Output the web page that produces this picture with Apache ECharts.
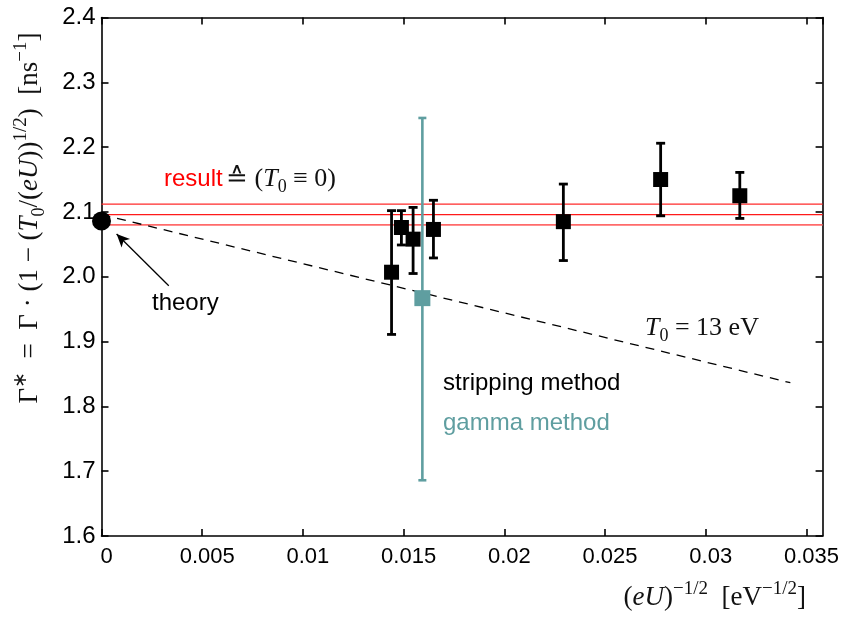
<!DOCTYPE html>
<html><head><meta charset="utf-8">
<script src="https://cdn.jsdelivr.net/npm/echarts@6/dist/echarts.min.js"></script>
<style>html,body{margin:0;padding:0;background:#fff}#c{width:842px;height:619px}</style>
</head><body><div id="c"></div>
<script>
// ---- data ----
const xTicks = [0, 0.005, 0.01, 0.015, 0.02, 0.025, 0.03, 0.035];
const xTickLabels = ['0', '0.005', '0.01', '0.015', '0.02', '0.025', '0.03', '0.035'];
const yTicks = [1.6, 1.7, 1.8, 1.9, 2.0, 2.1, 2.2, 2.3, 2.4];
const yTickLabels = ['1.6', '1.7', '1.8', '1.9', '2.0', '2.1', '2.2', '2.3', '2.4'];

const stripX    = [0.01440, 0.01489, 0.01547, 0.01648, 0.02293, 0.02776, 0.03169];
const stripY    = [2.007, 2.076, 2.058, 2.073, 2.085, 2.150, 2.125];
const stripLow  = [1.911, 2.049, 2.005, 2.029, 2.025, 2.094, 2.090];
const stripHigh = [2.102, 2.102, 2.107, 2.118, 2.143, 2.206, 2.161];

const gammaX    = [0.01593];
const gammaY    = [1.967];
const gammaLow  = [1.686];
const gammaHigh = [2.245];

const resultLines = [2.080, 2.096, 2.112];
const theoryX = [0];
const theoryY = [2.086];
const t0LineX = [0, 0.0342];
const t0LineY = [2.096, 1.8365];
const arrowFrom = [0.00334, 1.986];
const arrowTo   = [0.00075, 2.066];

const xMin = 0, xMax = 0.0358, yMin = 1.6, yMax = 2.4;

// ---- chart ----
const chart = echarts.init(document.getElementById('c'), null, {renderer: 'canvas'});
const sans = "'Liberation Sans', Arial, Helvetica, sans-serif";
const serif = "'Liberation Serif', 'Times New Roman', serif";

function xLabel(v) {
  for (let i = 0; i < xTicks.length; i++) if (Math.abs(v - xTicks[i]) < 1e-9) return xTickLabels[i];
  return '';
}
function yLabel(v) {
  for (let i = 0; i < yTicks.length; i++) if (Math.abs(v - yTicks[i]) < 1e-9) return yTickLabels[i];
  return '';
}

const axisLineStyle = {color: '#000', width: 1.6};
const baseX = {
  type: 'value', min: xMin, max: xMax, interval: 0.005,
  axisLine: {show: true, onZero: false, lineStyle: axisLineStyle},
  axisTick: {show: true, inside: true, length: 7, lineStyle: {color: '#000', width: 1.6}},
  splitLine: {show: false}
};
const baseY = {
  type: 'value', min: yMin, max: yMax, interval: 0.1,
  axisLine: {show: true, onZero: false, lineStyle: axisLineStyle},
  axisTick: {show: true, inside: true, length: 7, lineStyle: {color: '#000', width: 1.6}},
  splitLine: {show: false}
};

function errRender(color, lw, cap) {
  return function (params, api) {
    const x = api.value(0), lo = api.value(1), hi = api.value(2);
    const a = api.coord([x, lo]), b = api.coord([x, hi]);
    const st = {stroke: color, lineWidth: lw};
    return {type: 'group', children: [
      {type: 'line', shape: {x1: a[0], y1: a[1], x2: b[0], y2: b[1]}, style: st},
      {type: 'line', shape: {x1: a[0] - cap, y1: a[1], x2: a[0] + cap, y2: a[1]}, style: st},
      {type: 'line', shape: {x1: b[0] - cap, y1: b[1], x2: b[0] + cap, y2: b[1]}, style: st}
    ]};
  };
}

const teal = '#5F9EA0';
const ink = '#111';
function mathRich(fs) {
  return {
    r: {fontFamily: serif, fontSize: fs, lineHeight: Math.round(fs * 1.35), fill: ink},
    i: {fontFamily: serif, fontSize: fs, lineHeight: Math.round(fs * 1.35), fontStyle: 'italic', fill: ink},
    sub: {fontFamily: serif, fontSize: Math.round(fs * 0.68), lineHeight: Math.round(fs * 0.95), verticalAlign: 'bottom', fill: ink},
    sup: {fontFamily: serif, fontSize: Math.round(fs * 0.7), lineHeight: Math.round(fs * 0.7), verticalAlign: 'top', fill: ink},
    red: {fontFamily: sans, fontSize: 24, lineHeight: Math.round(fs * 1.35), fill: '#ff0000'}
  };
}

const resultColors = ['#ff6a6a', '#ff1a1a', '#ff2a2a'];
const resultSeries = resultLines.map((v, k) => ({
  type: 'line', name: 'result ' + k, data: [[xMin, v], [xMax, v]], symbol: 'none', silent: true,
  lineStyle: {color: resultColors[k], width: k === 0 ? 1.6 : 1.3}, z: 2
}));

chart.setOption({
  animation: false,
  backgroundColor: '#fff',
  grid: {left: 101.5, right: 18, top: 17.5, bottom: 83, containLabel: false},
  xAxis: [
    Object.assign({}, baseX, {position: 'bottom',
      axisLabel: {show: true, formatter: xLabel, showMaxLabel: false, color: '#000',
        fontFamily: sans, fontSize: 22, margin: 10, padding: [0, 0, 0, 10]}}),
    Object.assign({}, baseX, {position: 'top', axisLabel: {show: false}})
  ],
  yAxis: [
    Object.assign({}, baseY, {position: 'left',
      axisLabel: {show: true, formatter: yLabel, color: '#000', fontFamily: sans, fontSize: 24, margin: 6}}),
    Object.assign({}, baseY, {position: 'right', axisLabel: {show: false}})
  ],
  series: resultSeries.concat([
    {
      type: 'line', name: 'T0 = 13 eV', data: t0LineX.map((x, i) => [x, t0LineY[i]]),
      symbol: 'none', lineStyle: {color: '#000', width: 1.3, type: [9, 7]}, z: 3, silent: true
    },
    {
      type: 'custom', name: 'gamma err', renderItem: errRender(teal, 2.6, 4),
      data: gammaX.map((x, i) => [x, gammaLow[i], gammaHigh[i]]), z: 4, silent: true
    },
    {
      type: 'custom', name: 'strip err', renderItem: errRender('#000', 2.8, 4.5),
      data: stripX.map((x, i) => [x, stripLow[i], stripHigh[i]]), z: 5, silent: true
    },
    {
      type: 'scatter', name: 'gamma method', data: gammaX.map((x, i) => [x, gammaY[i]]),
      symbol: 'rect', symbolSize: 16, itemStyle: {color: teal, opacity: 1}, z: 6, silent: true
    },
    {
      type: 'scatter', name: 'stripping method', data: stripX.map((x, i) => [x, stripY[i]]),
      symbol: 'rect', symbolSize: 15, itemStyle: {color: '#000', opacity: 1}, z: 7, silent: true
    },
    {
      type: 'scatter', name: 'theory', data: theoryX.map((x, i) => [x, theoryY[i]]),
      symbol: 'circle', symbolSize: 19, itemStyle: {color: '#000', opacity: 1}, z: 8, silent: true,
      markLine: {silent: true, symbol: ['none', 'arrow'], symbolSize: [9, 13], label: {show: false},
        lineStyle: {color: '#000', width: 1.3, type: 'solid', opacity: 1},
        data: [[{coord: arrowFrom}, {coord: arrowTo}]]}
    }
  ]),
  graphic: [
    {type: 'text', left: 164, top: 166, z: 20, silent: true,
      style: {text: '{red|result} {r|≙ (}{i|T}{sub|0}{r| ≡ 0)}', rich: mathRich(26)}},
    {type: 'text', left: 152, top: 291, z: 20, silent: true,
      style: {text: 'theory', fontFamily: sans, fontSize: 24, fill: '#000'}},
    {type: 'text', left: 645, top: 315, z: 20, silent: true,
      style: {text: '{i|T}{sub|0}{r| = 13 eV}', rich: mathRich(26)}},
    {type: 'text', left: 443, top: 371, z: 20, silent: true,
      style: {text: 'stripping method', fontFamily: sans, fontSize: 24, fill: '#000'}},
    {type: 'text', left: 443, top: 411, z: 20, silent: true,
      style: {text: 'gamma method', fontFamily: sans, fontSize: 24, fill: teal}},
    {type: 'text', x: 806, y: 598, z: 20, silent: true,
      style: {text: '{r|(}{i|eU}{r|)}{sup|−1/2}{r|  [eV}{sup|−1/2}{r|]}', rich: mathRich(27),
        align: 'right', verticalAlign: 'middle'}},
    {type: 'text', x: 30, y: 218, rotation: Math.PI / 2, z: 20, silent: true,
      style: {text: '{r|Γ}{sup|∗}{r|  =  Γ · (1 − (}{i|T}{sub|0}{r|/(}{i|eU}{r|))}{sup|1/2}{r|)  [ns}{sup|−1}{r|]}',
        rich: mathRich(27), align: 'center', verticalAlign: 'middle'}}
  ]
});
</script></body></html>
